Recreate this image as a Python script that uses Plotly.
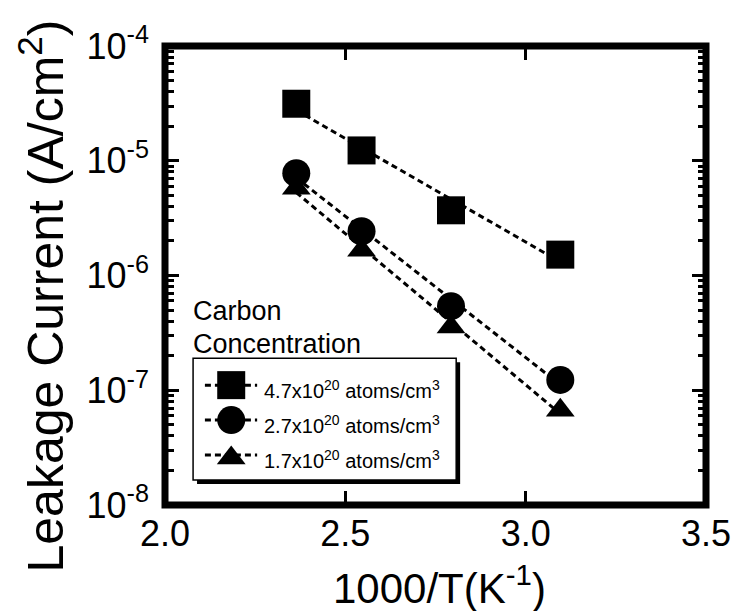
import numpy as np
import plotly.graph_objects as go

# ---- data ----
inv_T = [2.364, 2.545, 2.793, 3.096]          # 1000/T (K^-1)
j_47 = [3.14e-5, 1.23e-5, 3.70e-6, 1.52e-6]    # 4.7x10^20 atoms/cm^3
j_27 = [7.8e-6, 2.43e-6, 5.4e-7, 1.23e-7]      # 2.7x10^20 atoms/cm^3
j_17 = [5.75e-6, 1.66e-6, 3.55e-7, 6.7e-8]     # 1.7x10^20 atoms/cm^3

series_labels = [
    "4.7x10<sup>20</sup> atoms/cm<sup>3</sup>",
    "2.7x10<sup>20</sup> atoms/cm<sup>3</sup>",
    "1.7x10<sup>20</sup> atoms/cm<sup>3</sup>",
]
series_values = [j_47, j_27, j_17]
symbols = ["square", "circle", "triangle-up"]
marker_sizes = [28, 28, 25]

x_tickvals = [2.0, 2.5, 3.0, 3.5]
x_ticktext = ["2.0", "2.5", "3.0", "3.5"]
y_tickvals = [1e-8, 1e-7, 1e-6, 1e-5, 1e-4]
y_ticktext = ["10<sup>-8</sup>", "10<sup>-7</sup>", "10<sup>-6</sup>",
              "10<sup>-5</sup>", "10<sup>-4</sup>"]
y_minor = [m * 10.0 ** e for e in range(-8, -4) for m in range(2, 10)]

x_title = "1000/T(K<sup>-1</sup>)"
y_title = "Leakage Current (A/cm<sup>2</sup>)"
legend_heading = ["Carbon", "Concentration"]

# ---- layout geometry (pixels) ----
W, H = 743, 611
ML, MR, MT, MB = 164.5, 29.5, 45.5, 106
PW, PH = W - ML - MR, H - MT - MB
FONT = "Arial, 'Liberation Sans', sans-serif"
DASH = "6px,4px"


def px_to_paper(px, py):
    return (px - ML) / PW, (H - MB - py) / PH


fig = go.Figure()

# data: fitted (Arrhenius) dashed lines + markers
for vals, sym, ms in zip(series_values, symbols, marker_sizes):
    slope, icpt = np.polyfit(inv_T, np.log10(vals), 1)
    xf = np.array([inv_T[0], inv_T[-1]])
    fig.add_trace(go.Scatter(
        x=xf, y=10 ** (slope * xf + icpt), mode="lines",
        line=dict(color="black", width=3, dash=DASH),
        showlegend=False, hoverinfo="skip"))
    fig.add_trace(go.Scatter(
        x=inv_T, y=vals, mode="markers",
        marker=dict(symbol=sym, size=ms, color="black", line=dict(width=0)),
        showlegend=False))

# ---- hand-made legend on an overlay axis in pixel units ----
key_y = [385, 420, 455]
key_line_x = [205, 258]
key_marker_x = 231.7
key_text_x = 263
for ky, sym, ms, lab in zip(key_y, symbols, marker_sizes, series_labels):
    fig.add_trace(go.Scatter(
        x=key_line_x, y=[ky, ky], mode="lines", xaxis="x2", yaxis="y2",
        line=dict(color="black", width=3, dash=DASH),
        showlegend=False, hoverinfo="skip"))
    fig.add_trace(go.Scatter(
        x=[key_marker_x], y=[ky + (3 if sym == "triangle-up" else 0)],
        mode="markers", xaxis="x2", yaxis="y2",
        marker=dict(symbol=sym, size=ms, color="black", line=dict(width=0)),
        showlegend=False, hoverinfo="skip"))
    fig.add_annotation(
        x=key_text_x, y=ky + 4, xref="x2", yref="y2", text=lab,
        showarrow=False, xanchor="left", yanchor="middle",
        font=dict(family=FONT, size=20, color="black"))

for txt, ty in zip(legend_heading, [311, 344]):
    fig.add_annotation(
        x=191, y=ty, xref="x2", yref="y2", text=txt,
        showarrow=False, xanchor="left", yanchor="middle",
        font=dict(family=FONT, size=27, color="black"))

# axis titles as annotations (precise placement)
tx, ty = px_to_paper(40, 296)
fig.add_annotation(
    x=tx, y=ty, xref="paper", yref="paper", text=y_title, textangle=-90,
    showarrow=False, xanchor="center", yanchor="middle",
    font=dict(family=FONT, size=50, color="black"))
tx, ty = px_to_paper(443, 585)
fig.add_annotation(
    x=tx, y=ty, xref="paper", yref="paper", text=x_title,
    showarrow=False, xanchor="center", yanchor="middle",
    font=dict(family=FONT, size=42, color="black"))

shapes = [
    # legend drop shadow and box
    dict(type="rect", xref="x2", yref="y2", x0=197, x1=464, y0=362, y1=484,
         fillcolor="black", line=dict(width=0), layer="below"),
    dict(type="rect", xref="x2", yref="y2", x0=193, x1=460, y0=358, y1=480,
         fillcolor="white", line=dict(color="black", width=1.5), layer="below"),
    # thick frame
    dict(type="rect", xref="paper", yref="paper", x0=0, x1=1, y0=0, y1=1,
         line=dict(color="black", width=7), layer="above"),
]

fig.update_layout(
    width=W, height=H,
    margin=dict(l=ML, r=MR, t=MT, b=MB, pad=0),
    paper_bgcolor="white", plot_bgcolor="white",
    font=dict(family=FONT, color="black"),
    showlegend=False,
    shapes=shapes,
    xaxis=dict(
        range=[2.0, 3.5], tickmode="array", tickvals=x_tickvals, ticktext=x_ticktext,
        ticks="inside", ticklen=14, tickwidth=3, tickcolor="black",
        mirror="ticks", showline=False, showgrid=False, zeroline=False,
        tickfont=dict(family=FONT, size=36, color="black"),
        ticklabelstandoff=4,
    ),
    yaxis=dict(
        type="log", range=[-8, -4], tickmode="array", tickvals=y_tickvals,
        ticktext=y_ticktext,
        ticks="inside", ticklen=14, tickwidth=3, tickcolor="black",
        mirror="ticks", showline=False, showgrid=False, zeroline=False,
        minor=dict(tickmode="array", tickvals=y_minor, ticks="inside",
                   ticklen=8.5, tickwidth=2.5, tickcolor="black", showgrid=False),
        tickfont=dict(family=FONT, size=36, color="black"),
        ticklabelstandoff=15,
    ),
    xaxis2=dict(overlaying="x", range=[ML, W - MR], visible=False, fixedrange=True),
    yaxis2=dict(overlaying="y", range=[H - MB, MT], visible=False, fixedrange=True),
)

fig.write_html("out.html")
